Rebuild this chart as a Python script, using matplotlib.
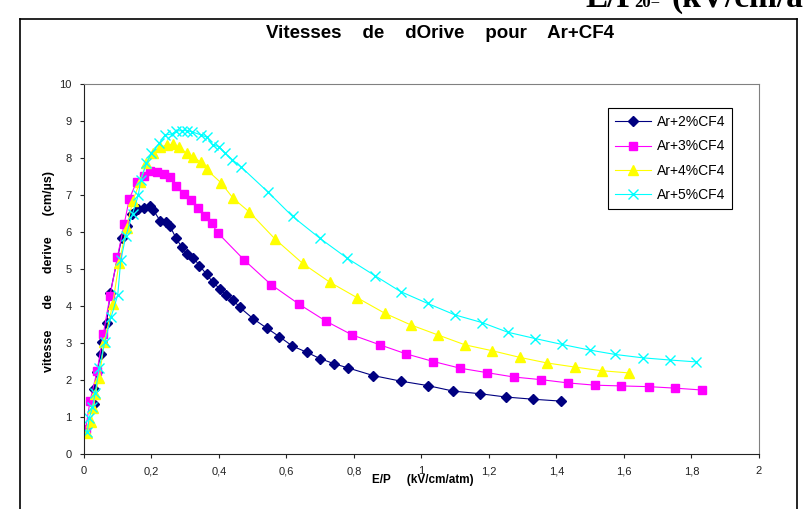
# -*- coding: utf-8 -*-
# Vitesses de derive pour Ar+CF4 (Excel style chart)

import matplotlib
matplotlib.use("Agg")
import matplotlib.pyplot as plt
from matplotlib.lines import Line2D

# data
ep_2 = [0.031, 0.031, 0.038, 0.050, 0.054, 0.067, 0.078, 0.112, 0.128, 0.141,
        0.159, 0.178, 0.196, 0.205, 0.225, 0.243, 0.255, 0.273, 0.289, 0.304,
        0.324, 0.342, 0.363, 0.381, 0.404, 0.422, 0.442, 0.462, 0.502, 0.542,
        0.579, 0.617, 0.660, 0.699, 0.741, 0.781, 0.857, 0.938, 1.018, 1.094,
        1.173, 1.250, 1.331, 1.412]
v_2 = [1.36, 1.77, 2.22, 2.70, 3.02, 3.55, 4.36, 5.85, 6.15, 6.50,
       6.62, 6.66, 6.69, 6.60, 6.31, 6.26, 6.15, 5.83, 5.60, 5.41,
       5.31, 5.09, 4.86, 4.65, 4.45, 4.30, 4.16, 3.96, 3.65, 3.40,
       3.17, 2.92, 2.75, 2.58, 2.44, 2.33, 2.12, 1.97, 1.85, 1.70,
       1.63, 1.54, 1.48, 1.43]

ep_3 = [0.005, 0.018, 0.039, 0.057, 0.077, 0.099, 0.119, 0.134, 0.156, 0.178,
        0.197, 0.217, 0.238, 0.255, 0.274, 0.296, 0.317, 0.337, 0.359, 0.378,
        0.396, 0.475, 0.554, 0.637, 0.717, 0.794, 0.877, 0.953, 1.035, 1.114,
        1.193, 1.274, 1.354, 1.435, 1.514, 1.591, 1.674, 1.751, 1.830]
v_3 = [0.68, 1.44, 2.25, 3.23, 4.27, 5.33, 6.21, 6.89, 7.36, 7.51,
       7.65, 7.61, 7.57, 7.48, 7.25, 7.03, 6.86, 6.66, 6.42, 6.23,
       5.98, 5.24, 4.58, 4.05, 3.59, 3.22, 2.95, 2.71, 2.50, 2.32,
       2.20, 2.08, 2.01, 1.92, 1.86, 1.84, 1.82, 1.78, 1.73]

ep_4 = [0.010, 0.021, 0.028, 0.033, 0.045, 0.060, 0.085, 0.104, 0.126, 0.144,
        0.166, 0.185, 0.203, 0.225, 0.245, 0.265, 0.282, 0.304, 0.324, 0.346,
        0.363, 0.406, 0.442, 0.490, 0.566, 0.648, 0.729, 0.810, 0.892, 0.968,
        1.048, 1.129, 1.210, 1.292, 1.372, 1.454, 1.535, 1.616]
v_4 = [0.56, 0.87, 1.25, 1.62, 2.05, 3.02, 4.05, 5.17, 6.10, 6.83,
       7.36, 7.86, 8.13, 8.29, 8.35, 8.37, 8.29, 8.13, 8.04, 7.88,
       7.69, 7.33, 6.91, 6.54, 5.81, 5.15, 4.64, 4.22, 3.80, 3.49,
       3.22, 2.95, 2.79, 2.61, 2.46, 2.35, 2.25, 2.19]

ep_5 = [0.010, 0.015, 0.025, 0.033, 0.045, 0.062, 0.080, 0.100, 0.109, 0.124,
        0.144, 0.161, 0.168, 0.185, 0.200, 0.223, 0.240, 0.260, 0.274, 0.289,
        0.304, 0.319, 0.348, 0.365, 0.381, 0.400, 0.418, 0.440, 0.464, 0.544,
        0.618, 0.699, 0.780, 0.862, 0.938, 1.018, 1.099, 1.180, 1.256, 1.337,
        1.417, 1.498, 1.574, 1.655, 1.736, 1.813]
v_5 = [0.60, 0.96, 1.26, 1.64, 2.32, 3.04, 3.69, 4.30, 5.24, 5.89,
       6.50, 7.00, 7.41, 7.86, 8.13, 8.40, 8.62, 8.65, 8.73, 8.74,
       8.74, 8.71, 8.62, 8.56, 8.35, 8.31, 8.13, 7.95, 7.77, 7.09,
       6.42, 5.83, 5.29, 4.82, 4.39, 4.07, 3.76, 3.55, 3.29, 3.12,
       2.96, 2.81, 2.69, 2.60, 2.54, 2.49]

labels = ["Ar+2%CF4", "Ar+3%CF4", "Ar+4%CF4", "Ar+5%CF4"]
x_ticks = [0, 0.2, 0.4, 0.6, 0.8, 1, 1.2, 1.4, 1.6, 1.8, 2]
y_ticks = [0, 1, 2, 3, 4, 5, 6, 7, 8, 9, 10]

plt.rcParams['font.family'] = ['Liberation Sans', 'DejaVu Sans']

W, H = 804, 509
fig = plt.figure(figsize=(W / 100, H / 100), dpi=100)
ax = fig.add_axes([84 / W, 1 - 454 / H, 675 / W, 370 / H])

# series
ax.plot(ep_2, v_2, color='#000080', lw=0.8, marker='D', ms=5,
        mec='#000080', mfc='#000080', label=labels[0])
ax.plot(ep_3, v_3, color='#FF00FF', lw=0.8, marker='s', ms=5.5,
        mec='#FF00FF', mfc='#FF00FF', label=labels[1])
ax.plot(ep_4, v_4, color='#FFFF00', lw=0.8, marker='^', ms=6.5,
        mec='#FFFF00', mfc='#FFFF00', label=labels[2])
ax.plot(ep_5, v_5, color='#00FFFF', lw=0.8, marker='x', ms=6.5, mew=1,
        mec='#00FFFF', label=labels[3])

ax.set_xlim(0, 2)
ax.set_ylim(0, 10)
ax.set_xticks(x_ticks)
ax.set_xticklabels([str(t).replace('.', ',') for t in x_ticks])
ax.set_yticks(y_ticks)
ax.tick_params(direction='out', length=3, width=0.8, labelsize=8,
               colors='#222222', pad=6)

ax.spines['left'].set_color('#222222')
ax.spines['bottom'].set_color('#222222')
ax.spines['top'].set_color('#808080')
ax.spines['right'].set_color('#808080')

# titles
fig.text(440 / W, 1 - 33 / H, "Vitesses    de    dOrive    pour    Ar+CF4",
         ha='center', va='center', fontsize=13.5, fontweight='bold')
fig.text(49 / W, 1 - 271 / H, "vitesse      de      derive      (cm/\u00b5s)",
         ha='center', va='center', rotation=90, fontsize=9,
         fontweight='bold')
fig.text(423 / W, 1 - 480 / H, "E/P     (kV/cm/atm)", ha='center',
         va='center', fontsize=8.5, fontweight='bold')

# clipped text at top right (only its lower part is in the picture)
top_font = dict(ha='left', va='baseline', fontweight='bold',
                family=['Liberation Serif', 'DejaVu Serif'])
fig.text(585 / W, 1 - 7 / H, "E/P", fontsize=24, **top_font)
fig.text(634 / W, 1 - 7 / H, "20=", fontsize=12, **top_font)
fig.text(672 / W, 1 - 7 / H, "(kV/cm/atm)", fontsize=24, **top_font)

# chart border
fig.add_artist(Line2D([20 / W, 20 / W], [0, 1 - 19 / H], color='black',
                      lw=1.2, transform=fig.transFigure))
fig.add_artist(Line2D([20 / W, 797 / W], [1 - 19 / H, 1 - 19 / H],
                      color='black', lw=1.2, transform=fig.transFigure))
fig.add_artist(Line2D([797 / W, 797 / W], [0, 1 - 19 / H], color='black',
                      lw=1.2, transform=fig.transFigure))

leg = ax.legend(loc='upper left', bbox_to_anchor=(608 / W, 1 - 108 / H),
                bbox_transform=fig.transFigure, fontsize=10,
                fancybox=False, framealpha=1, edgecolor='black',
                handlelength=2.6, borderpad=0.5, labelspacing=0.75,
                handletextpad=0.4, borderaxespad=0)
leg.get_frame().set_linewidth(0.8)

fig.savefig("out.png", dpi=100)
